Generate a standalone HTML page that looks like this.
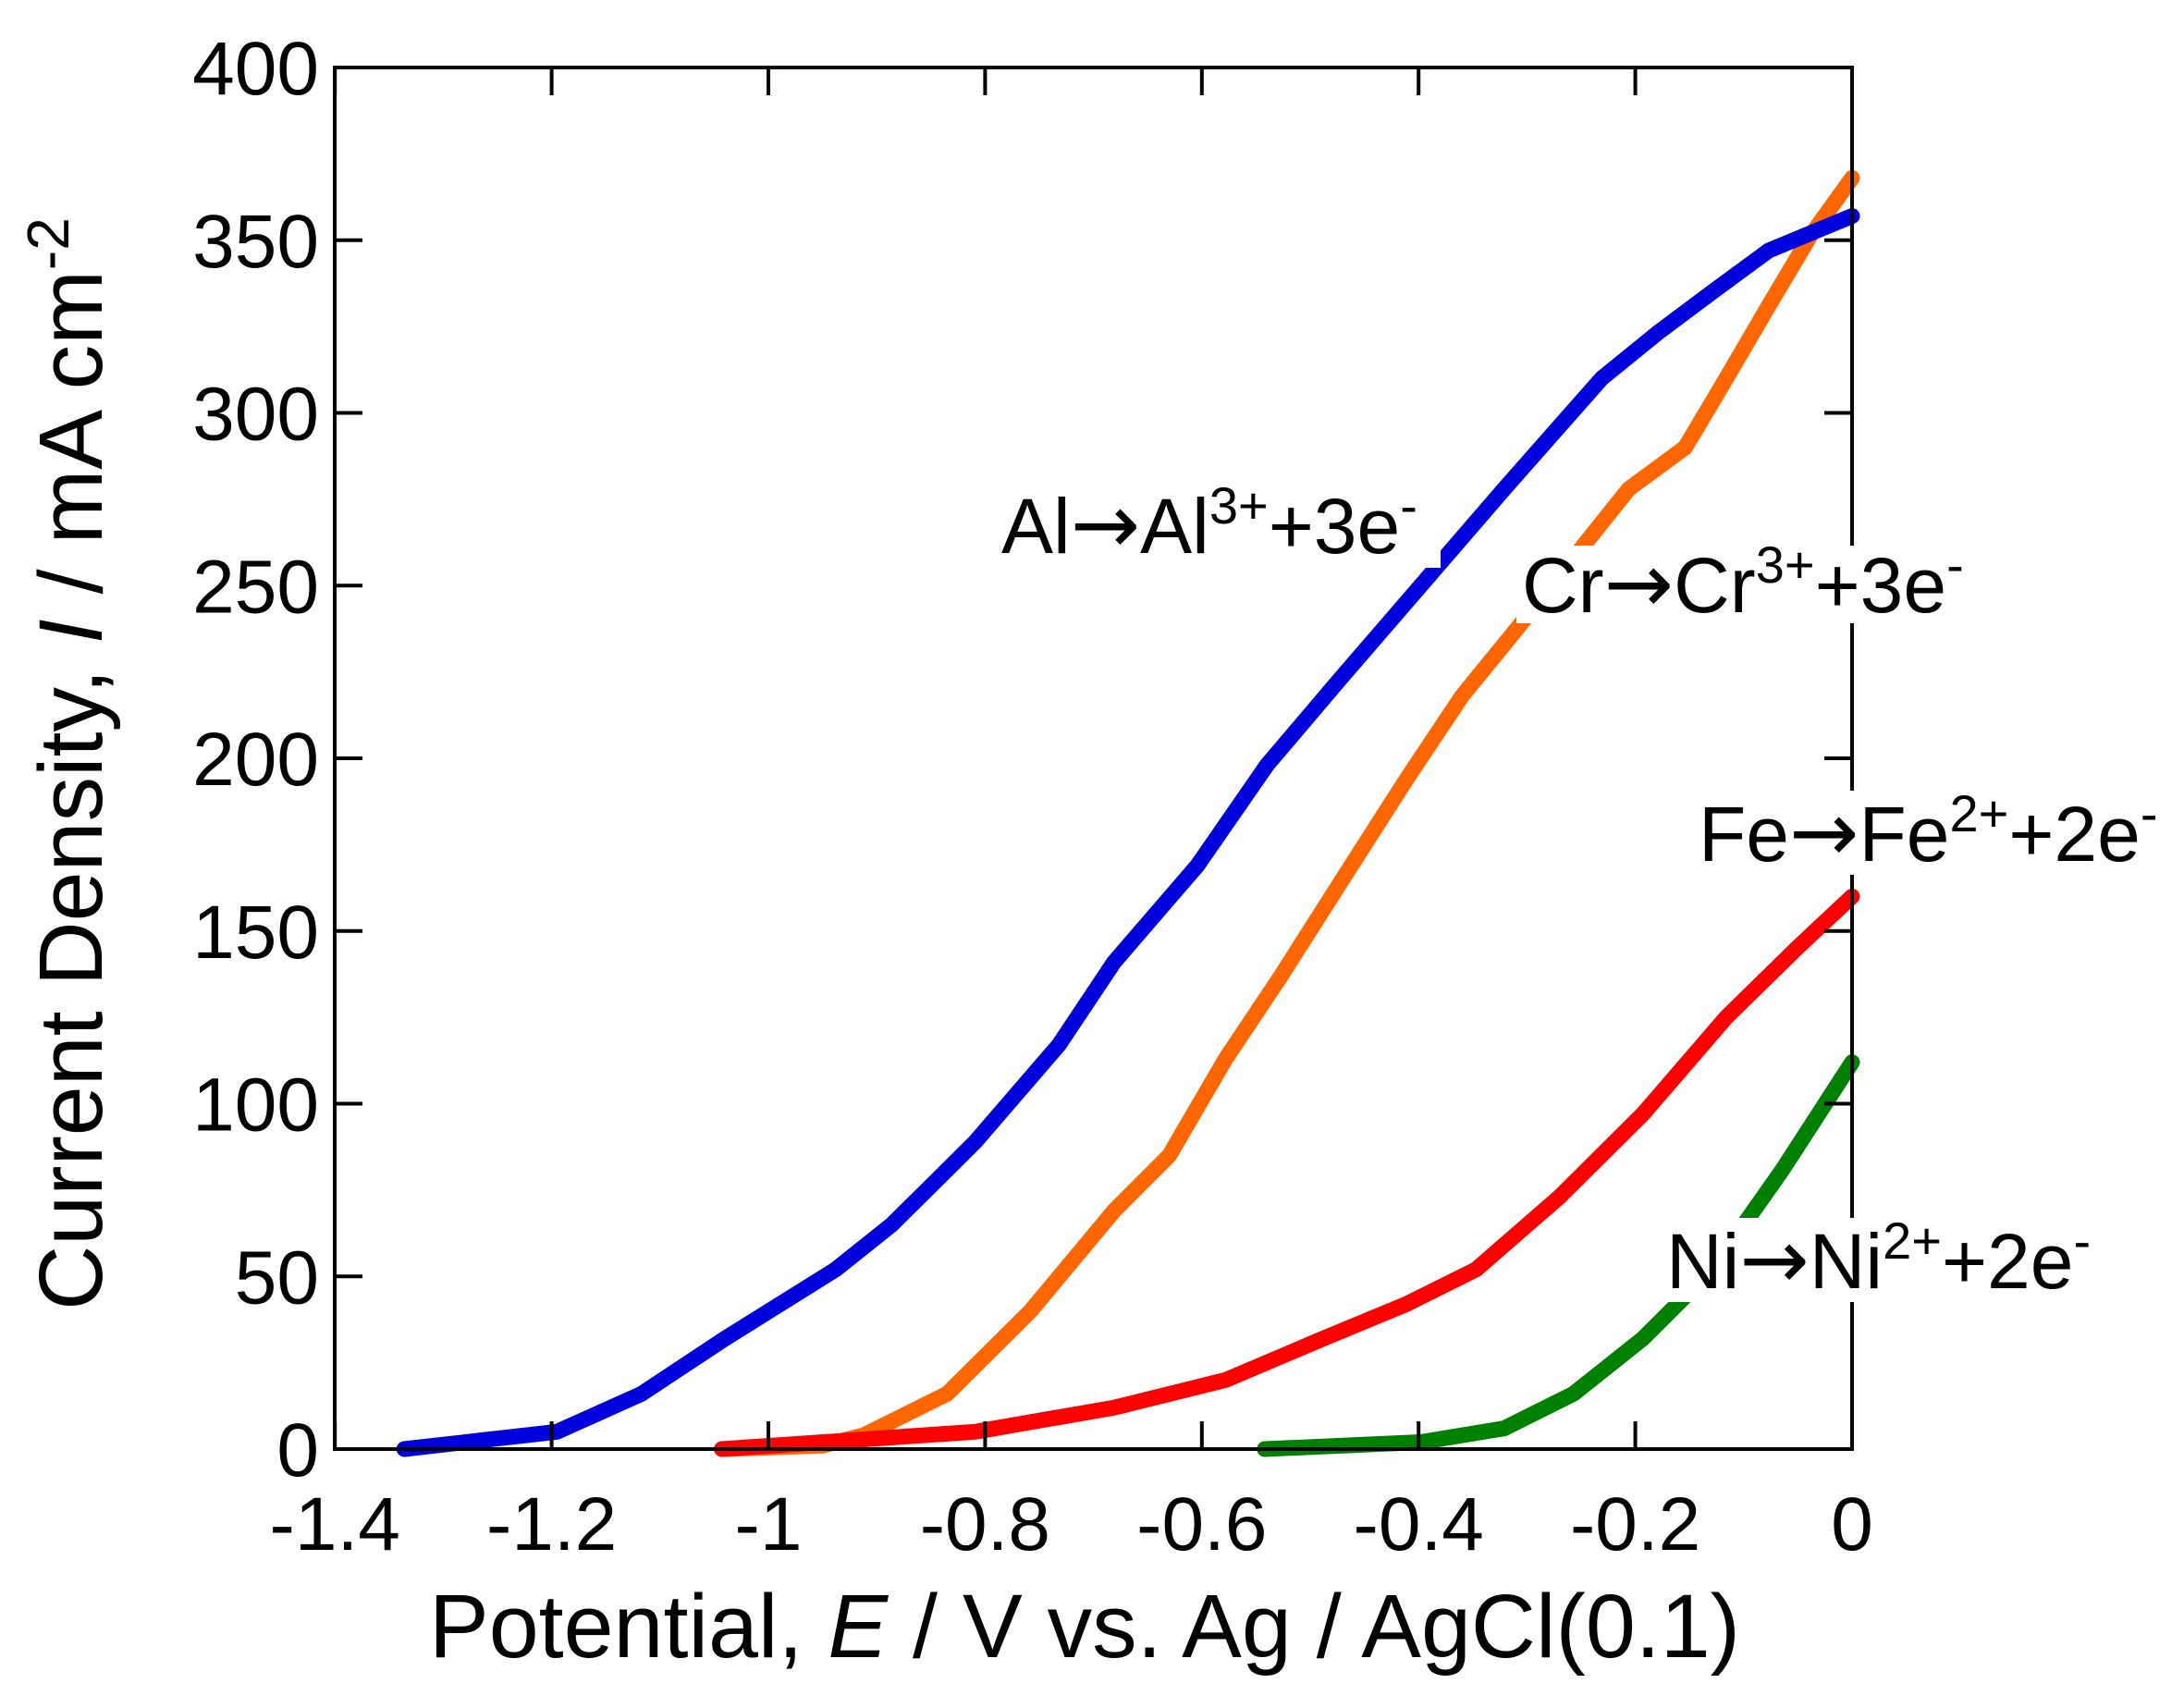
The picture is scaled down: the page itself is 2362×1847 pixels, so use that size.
<!DOCTYPE html>
<html><head><meta charset="utf-8"><style>
html,body{margin:0;padding:0;background:#fff}
svg{display:block}
text{font-family:"Liberation Sans",sans-serif;fill:#000}
.ar{font-family:"DejaVu Sans",sans-serif}
</style></head><body>
<svg id="s" width="2362" height="1847" viewBox="0 0 2362 1847" xmlns="http://www.w3.org/2000/svg">
<g id="curves" fill="none" stroke-width="17" stroke-linecap="round" stroke-linejoin="round"></g>
<rect x="362" y="73" width="1641" height="1494" fill="none" stroke="#000" stroke-width="4"/>
<g id="ticks" stroke="#000" stroke-width="4"></g>
<g id="labels" font-size="82"></g>
<rect x="1078" y="522" width="480" height="92" fill="#fff"/>
<rect x="1640" y="590" width="502" height="84" fill="#fff"/>
<rect x="1832" y="855" width="522" height="91" fill="#fff"/>
<rect x="1794" y="1317" width="484" height="91" fill="#fff"/>
<g font-size="84">
<text x="1083" y="598">Al<tspan class="ar" font-size="90">→</tspan>Al<tspan font-size="56" dy="-32">3+</tspan><tspan dy="32">+3e</tspan><tspan font-size="56" dy="-32">-</tspan></text>
<text x="1646" y="662">Cr<tspan class="ar" font-size="90">→</tspan>Cr<tspan font-size="56" dy="-32">3+</tspan><tspan dy="32">+3e</tspan><tspan font-size="56" dy="-32">-</tspan></text>
<text x="1837" y="931">Fe<tspan class="ar" font-size="90">→</tspan>Fe<tspan font-size="56" dy="-32">2+</tspan><tspan dy="32">+2e</tspan><tspan font-size="56" dy="-32">-</tspan></text>
<text x="1802" y="1393">Ni<tspan class="ar" font-size="90">→</tspan>Ni<tspan font-size="56" dy="-32">2+</tspan><tspan dy="32">+2e</tspan><tspan font-size="56" dy="-32">-</tspan></text>
</g>
<text x="1173" y="1792" font-size="97" text-anchor="middle">Potential, <tspan font-style="italic">E</tspan> / V vs. Ag / AgCl(0.1)</text>
<text transform="translate(110,826) rotate(-90)" font-size="97" text-anchor="middle">Current Density, <tspan font-style="italic">I</tspan> / mA cm<tspan font-size="64" dy="-36">-2</tspan></text>
</svg>
<script>
var X=function(e){return 2003+e/0.2*234.4},Y=function(i){return 1567-i/50*186.75};
var NS="http://www.w3.org/2000/svg";
var series=[
["#ff6600",[[-1.04,0],[-0.95,1],[-0.912,4],[-0.835,16],[-0.758,40],[-0.681,69],[-0.63,85],[-0.578,113],[-0.527,137],[-0.462,169],[-0.411,194],[-0.36,218],[-0.308,238],[-0.257,258],[-0.206,278],[-0.154,290],[-0.116,310],[-0.077,331],[-0.039,351],[0,368]]],
["#0000dd",[[-1.336,0],[-1.195,5],[-1.117,16],[-1.04,32],[-0.938,52],[-0.886,65],[-0.809,89],[-0.732,117],[-0.681,141],[-0.604,169],[-0.54,198],[-0.475,222],[-0.398,250],[-0.321,278],[-0.231,310],[-0.18,323],[-0.129,335],[-0.077,347],[0,357]]],
["#ff0000",[[-1.043,0],[-0.809,5],[-0.681,12],[-0.578,20],[-0.488,32],[-0.411,42],[-0.347,52],[-0.27,73],[-0.193,97],[-0.116,125],[-0.051,145],[0,160]]],
["#008000",[[-0.542,0],[-0.398,2],[-0.321,6],[-0.257,16],[-0.193,32],[-0.129,52],[-0.064,81],[0,112]]]
];
var g=document.getElementById("curves");
series.forEach(function(s){var p=document.createElementNS(NS,"polyline");
p.setAttribute("points",s[1].map(function(q){return X(q[0]).toFixed(1)+","+Y(q[1]).toFixed(1)}).join(" "));
p.setAttribute("stroke",s[0]);g.appendChild(p);});
var t=document.getElementById("ticks"),L=document.getElementById("labels");
function ln(a,b,c,d){var l=document.createElementNS(NS,"line");l.setAttribute("x1",a);l.setAttribute("y1",b);l.setAttribute("x2",c);l.setAttribute("y2",d);t.appendChild(l);}
function tx(x,y,s,a){var e=document.createElementNS(NS,"text");e.setAttribute("x",x);e.setAttribute("y",y);e.setAttribute("text-anchor",a);e.textContent=s;L.appendChild(e);}
for(var i=0;i<=7;i++){var e=-1.4+i*0.2,x=X(e);ln(x,1567,x,1537);ln(x,73,x,103);
var s=(i==7)?"0":(Math.round(e*10)/10).toString();tx(x,1676,s,"middle");}
for(var j=0;j<=8;j++){var y=Y(j*50);ln(362,y,392,y);ln(2003,y,1973,y);tx(345,y+29,String(j*50),"end");}
</script>
</body></html>
